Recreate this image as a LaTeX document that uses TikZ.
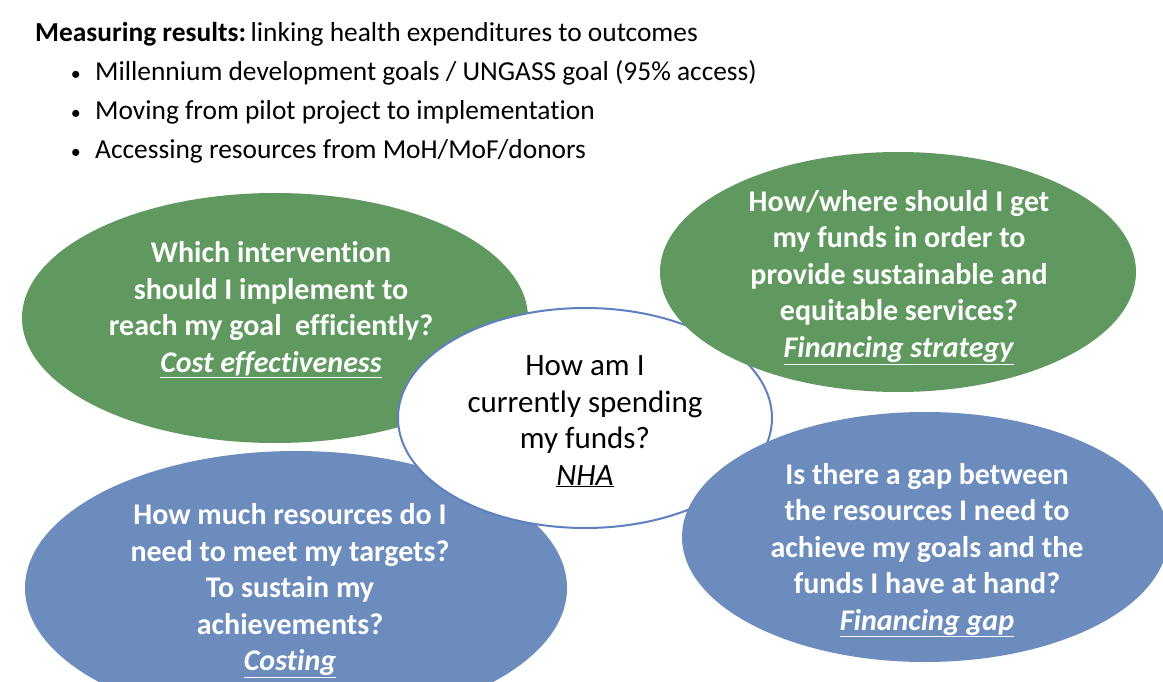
\documentclass[tikz,border=0pt]{standalone}
\usepackage{fontspec}
\setmainfont{Carlito}[Ligatures=NoCommon]
\usetikzlibrary{shapes.geometric,positioning}
\definecolor{leafgreen}{RGB}{95,153,95}
\definecolor{slateblue}{RGB}{108,140,190}
\definecolor{rimblue}{RGB}{95,128,190}
\tikzset{
  bubble/.style={ellipse,inner sep=0pt},
  greenbubble/.style={bubble,fill=leafgreen},
  bluebubble/.style={bubble,fill=slateblue},
  nhabubble/.style={bubble,fill=white,draw=rimblue,line width=2pt},
  question/.style={align=center,inner sep=0pt,text=white,
    font=\fontsize{30}{36.5}\selectfont\bfseries},
  nhaquestion/.style={question,text=black,font=\fontsize{31}{36.5}\selectfont},
  headline/.style={anchor=base west,inner sep=0pt,font=\fontsize{27.4}{30}\selectfont}
}
\newcommand{\toolname}[1]{\underline{\textit{#1}}}

\begin{document}
\begin{tikzpicture}[x=1pt,y=-1pt]
  \useasboundingbox[fill=white] (0,0) rectangle (1163,682);

  % header and bullets
  \node[headline] (title) at (35,42) {\textbf{Measuring results:}\,linking health expenditures to outcomes};
  \node[headline] (mdg)  at (95,81)  {Millennium development goals / UNGASS goal (95\% access)};
  \node[headline] (pilot) at (95,120) {Moving from pilot project to implementation};
  \node[headline] (moh)  at (95,159) {Accessing resources from MoH/MoF/donors};
  \node[headline,anchor=base east,font=\fontsize{20}{24}\selectfont] (mdgdot) at ([xshift=-14pt]mdg.base west) {•};
  \node[headline,anchor=base east,font=\fontsize{20}{24}\selectfont] (pilotdot) at ([xshift=-14pt]pilot.base west) {•};
  \node[headline,anchor=base east,font=\fontsize{20}{24}\selectfont] (mohdot) at ([xshift=-14pt]moh.base west) {•};

  % the five bubbles, back to front
  \node[greenbubble,minimum width=506pt,minimum height=250pt] (costeff) at (275,318) {};
  \node[bluebubble,minimum width=542pt,minimum height=274pt] (costing) at (296,588) {};
  \node[nhabubble,minimum width=374pt,minimum height=220pt] (nha) at (585,418) {};
  \node[greenbubble,minimum width=476pt,minimum height=240pt] (finstrat) at (898,272) {};
  \node[bluebubble,minimum width=486pt,minimum height=250pt] (fingap) at (925,537) {};

  % the questions
  \node[question] (costeffq) at (271,309.5)
    {Which intervention\\ should I implement to\\ reach my goal\ \ efficiently?\\ \toolname{Cost effectiveness}};
  \node[question] (costingq) at (290,590.5)
    {How much resources do I\\ need to meet my targets?\\ To sustain my\\ achievements?\\ \toolname{Costing}};
  \node[nhaquestion] (nhaq) at (585,421.5)
    {How am I\\ currently spending\\ my funds?\\ \toolname{NHA}};
  \node[question] (finstratq) at (899,277.5)
    {How/where should I get\\ my funds in order to\\ provide sustainable and\\ equitable services?\\ \toolname{Financing strategy}};
  \node[question] (fingapq) at (927,550)
    {Is there a gap between\\ the resources I need to\\ achieve my goals and the\\ funds I have at hand?\\ \toolname{Financing gap}};
\end{tikzpicture}
\end{document}
